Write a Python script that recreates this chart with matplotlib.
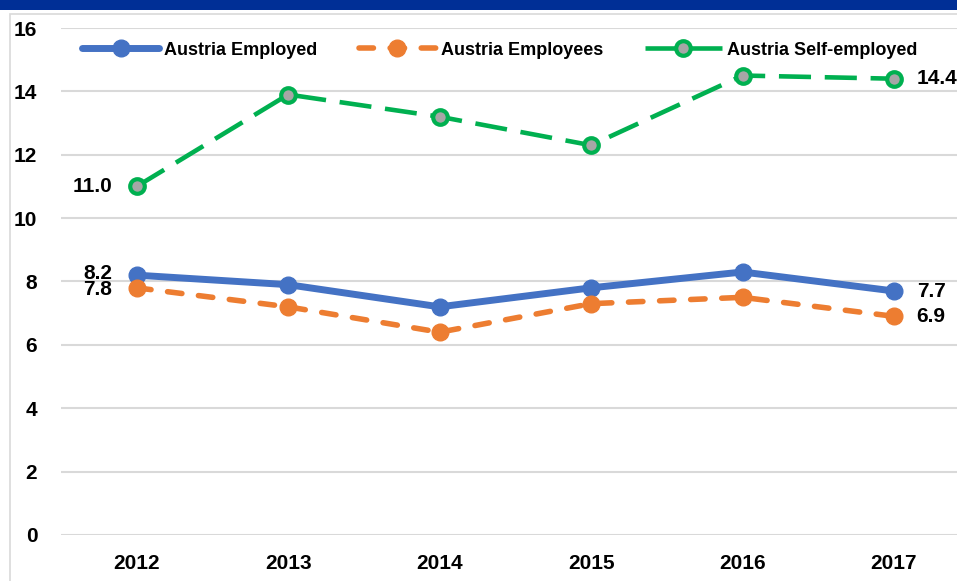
import matplotlib.pyplot as plt
from matplotlib.patches import Rectangle

# Values
years = ["2012", "2013", "2014", "2015", "2016", "2017"]
employed = [8.2, 7.9, 7.2, 7.8, 8.3, 7.7]
employees = [7.8, 7.2, 6.4, 7.3, 7.5, 6.9]
self_employed = [11.0, 13.9, 13.2, 12.3, 14.5, 14.4]

BLUE = "#4472c4"
ORANGE = "#ed7d31"
GREEN = "#00b050"

plt.rcParams["font.family"] = ["Liberation Sans", "DejaVu Sans"]
plt.rcParams["font.weight"] = "bold"

fig = plt.figure(figsize=(9.57, 5.81), dpi=100)
ax = fig.add_axes([0.0637, 0.0792, 0.9363, 0.8726])

x = list(range(len(years)))
ax.plot(x, employed, color=BLUE, lw=5, marker="o", ms=12,
        solid_capstyle="round", label="Austria Employed", zorder=3)
ax.plot(x, employees, color=ORANGE, lw=4, ls=(0, (2.6, 3.0)), marker="o", ms=12,
        dash_capstyle="round", label="Austria Employees", zorder=3)
ax.plot(x, self_employed, color=GREEN, lw=3.3, ls=(0, (7, 3)), marker="o", ms=10.5,
        mfc="#a6a6a6", mec=GREEN, mew=3, label="Austria Self-employed", zorder=3)

# data labels on first and last points
lab = dict(fontsize=15, fontweight="bold", color="black", va="center")
ax.text(x[0] - 0.16, self_employed[0], f"{self_employed[0]:.1f}", ha="right", **lab)
ax.text(x[0] - 0.16, employed[0] + 0.05, f"{employed[0]:.1f}", ha="right", **lab)
ax.text(x[0] - 0.16, employees[0] - 0.05, f"{employees[0]:.1f}", ha="right", **lab)
ax.text(x[-1] + 0.15, self_employed[-1], f"{self_employed[-1]:.1f}", ha="left", **lab)
ax.text(x[-1] + 0.15, employed[-1], f"{employed[-1]:.1f}", ha="left", **lab)
ax.text(x[-1] + 0.15, employees[-1], f"{employees[-1]:.1f}", ha="left", **lab)

ax.set_xlim(-0.5, 5.416)
ax.set_ylim(0, 16)
ax.set_yticks(range(0, 17, 2))
ax.set_xticks(x)
ax.set_xticklabels(years)
ax.tick_params(axis="both", length=0, labelsize=15)
ax.tick_params(axis="y", pad=17)
ax.tick_params(axis="x", pad=14)
ax.grid(axis="y", color="#d9d9d9", lw=1.5)
ax.set_axisbelow(True)
for s in ax.spines.values():
    s.set_visible(False)

ax.legend(loc="upper left", bbox_to_anchor=(0.005, 1.005), ncol=3, frameon=False,
          fontsize=13, handlelength=4.3, columnspacing=2.3, handletextpad=0.25)

# chart frame and clipped title banner at the top
fig.patches.append(Rectangle((0.0105, -0.01), 1.2, 0.986, transform=fig.transFigure,
                             fill=False, ec="#d9d9d9", lw=1.2))
fig.patches.append(Rectangle((0, 0.982), 1, 0.02, transform=fig.transFigure,
                             color="#002f96", lw=0))

fig.savefig("out.png", dpi=100)
